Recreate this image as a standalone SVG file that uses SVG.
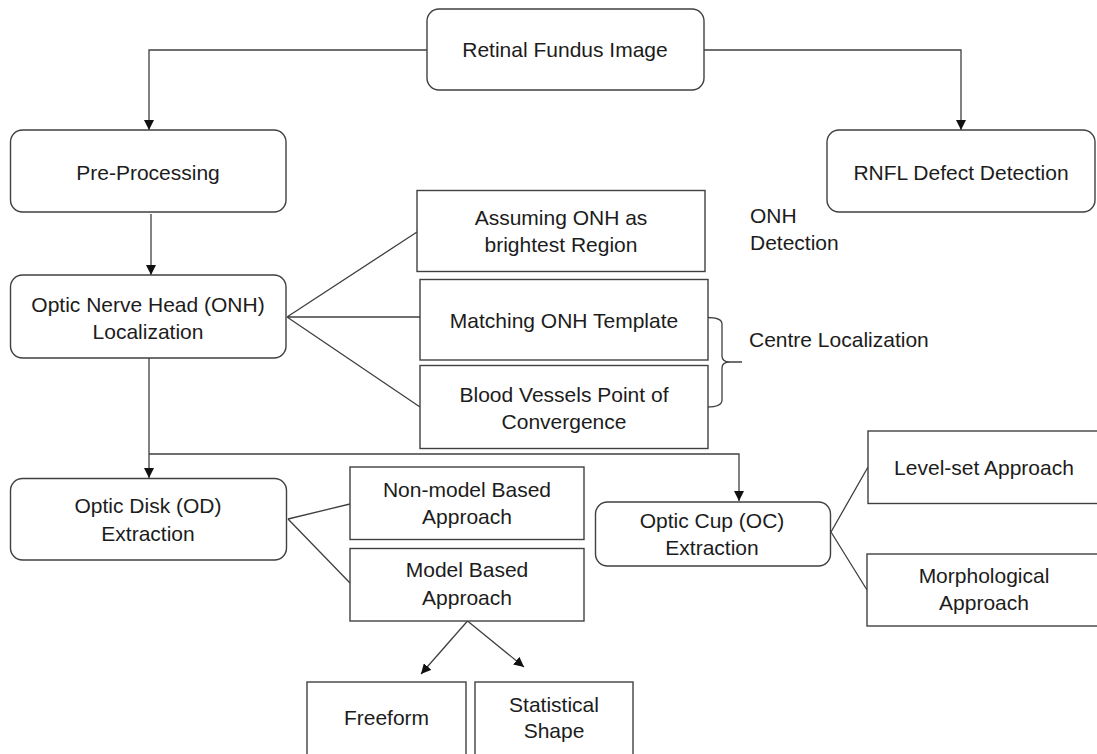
<svg xmlns="http://www.w3.org/2000/svg" width="1097" height="754" viewBox="0 0 1097 754">
<defs>
<style>
.b{fill:#fff;stroke:#404040;stroke-width:1.4}
.t{font-family:"Liberation Sans",Arial,sans-serif;font-size:21px;fill:#1c1c1c;text-anchor:middle}
.l{font-family:"Liberation Sans",Arial,sans-serif;font-size:21px;fill:#1c1c1c}
.c{fill:none;stroke:#404040;stroke-width:1.3}
.a{fill:none;stroke:#404040;stroke-width:1.3;marker-end:url(#ah)}
</style>
<marker id="ah" viewBox="0 0 10 10" refX="10" refY="5" markerWidth="10" markerHeight="10" markerUnits="userSpaceOnUse" orient="auto">
<path d="M0,0 L10,5 L0,10 z" fill="#111"/>
</marker>
</defs>
<rect width="1097" height="754" fill="#fff"/>
<g id="connectors">
<path class="a" d="M427,50 H149 V130"/>
<path class="a" d="M704,50 H961 V130"/>
<path class="a" d="M151,214 V275"/>
<path class="c" d="M287,317 L417,232 M287,317 H420 M287,317 L420,407"/>
<path class="a" d="M149,358 V478"/>
<path class="a" d="M149,454 H739 V501"/>
<path class="c" d="M288,519 L350,504 M288,519 L350,583"/>
<path class="a" d="M467.5,621 L421,674"/>
<path class="a" d="M467.5,621 L524,667"/>
<path class="c" d="M831,532 L868,467 M831,532 L867,590"/>
<path class="c" d="M707,317.5 Q722,317.5 722,324 V356 Q722,362 730,362 H742 M730,362 Q722,362 722,368 V400 Q722,407 707,407"/>
</g>
<g id="retinal"><rect class="b" x="427" y="9" width="277" height="81" rx="12"/><text class="t" x="565" y="57">Retinal Fundus Image</text></g>
<g id="preprocessing"><rect class="b" x="10.5" y="130" width="275.5" height="82" rx="12"/><text class="t" x="148" y="180">Pre-Processing</text></g>
<g id="rnfl"><rect class="b" x="827" y="130" width="268" height="82" rx="12"/><text class="t" x="961" y="180">RNFL Defect Detection</text></g>
<g id="onh"><rect class="b" x="10.5" y="275" width="275.5" height="83" rx="12"/><text class="t" x="148" y="312">Optic Nerve Head (ONH)</text><text class="t" x="148" y="339">Localization</text></g>
<g id="assuming"><rect class="b" x="417" y="190.5" width="288" height="81"/><text class="t" x="561" y="225">Assuming ONH as</text><text class="t" x="561" y="252">brightest Region</text></g>
<g id="onh-detection"><text class="l" x="750" y="223">ONH</text><text class="l" x="750" y="250">Detection</text></g>
<g id="matching"><rect class="b" x="420" y="279.5" width="288" height="80.5"/><text class="t" x="564" y="328">Matching ONH Template</text></g>
<g id="blood"><rect class="b" x="420" y="365.5" width="288" height="83"/><text class="t" x="564" y="402">Blood Vessels Point of</text><text class="t" x="564" y="429">Convergence</text></g>
<g id="centre"><text class="l" x="749" y="347">Centre Localization</text></g>
<g id="od"><rect class="b" x="10.5" y="478.5" width="276" height="81.5" rx="12"/><text class="t" x="148" y="513">Optic Disk (OD)</text><text class="t" x="148" y="541">Extraction</text></g>
<g id="nonmodel"><rect class="b" x="350" y="467" width="234" height="72.5"/><text class="t" x="467" y="497">Non-model Based</text><text class="t" x="467" y="524">Approach</text></g>
<g id="model"><rect class="b" x="350" y="548.5" width="234" height="72.5"/><text class="t" x="467" y="577">Model Based</text><text class="t" x="467" y="605">Approach</text></g>
<g id="oc"><rect class="b" x="595.5" y="502" width="235" height="64" rx="12"/><text class="t" x="712" y="528">Optic Cup (OC)</text><text class="t" x="712" y="555">Extraction</text></g>
<g id="levelset"><rect class="b" x="868" y="431" width="240" height="72.5"/><text class="t" x="984" y="475">Level-set Approach</text></g>
<g id="morph"><rect class="b" x="867" y="554" width="240" height="72"/><text class="t" x="984" y="583">Morphological</text><text class="t" x="984" y="610">Approach</text></g>
<g id="freeform"><rect class="b" x="307" y="682" width="159" height="90"/><text class="t" x="386.5" y="725">Freeform</text></g>
<g id="statistical"><rect class="b" x="475" y="682" width="158" height="90"/><text class="t" x="554" y="712">Statistical</text><text class="t" x="554" y="738">Shape</text></g>
</svg>
